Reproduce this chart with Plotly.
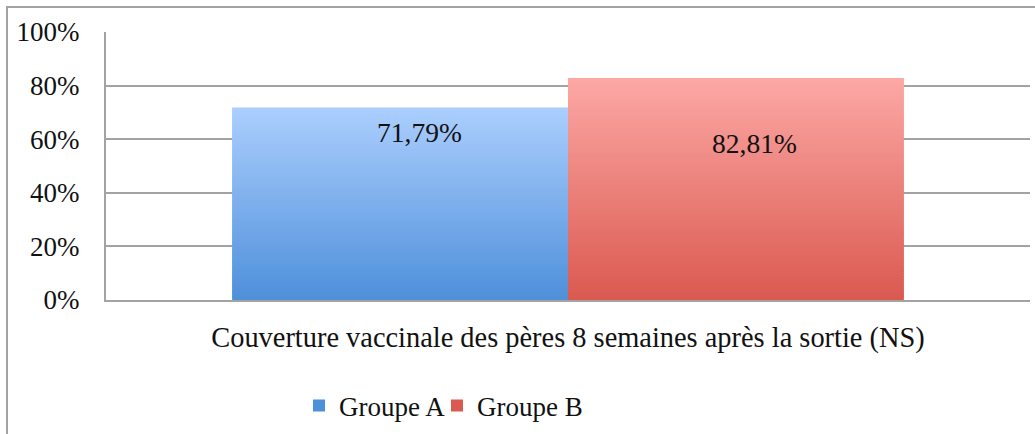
import plotly.graph_objects as go

# Data
category = "Couverture vaccinale des pères 8 semaines après la sortie (NS)"
groups = ["Groupe A", "Groupe B"]
coverage = [71.79, 82.81]          # % of fathers vaccinated
label_y = [62.5, 58.4]             # vertical position of value labels
y_ticks = [0, 20, 40, 60, 80, 100]

# Gradient ends (top colour, bottom colour) per group
grad_top = [(171, 206, 254), (252, 168, 165)]
grad_bottom = [(79, 144, 218), (218, 90, 80)]

W, H = 1035, 434
L, R, T, B = 106, 5, 32, 133
plot_w, plot_h = W - L - R, H - T - B
BARGAP = 0.273
FONT = "Liberation Serif"
GRID = "#A3A3A3"
N = 80  # slices used to render the vertical gradient
legend_left_px = [299, 437]  # left edge of each legend entry
legend_refs = ["legend", "legend2"]


def lerp(c0, c1, t):
    return "rgb({},{},{})".format(*[round(a + (b - a) * t) for a, b in zip(c0, c1)])


fig = go.Figure()
for g, v, top, bot, lg in zip(groups, coverage, grad_top, grad_bottom, legend_refs):
    step = v / N
    # each slice overlaps the next one slightly so no seams show
    heights = [step * 1.6] * (N - 1) + [step]
    fig.add_trace(go.Bar(
        name=g,
        x=[category] * N,
        y=heights,
        base=[i * step for i in range(N)],
        marker=dict(color=[lerp(bot, top, i / (N - 1)) for i in range(N)],
                    line=dict(width=0)),
        hoverinfo="skip",
        legend=lg,
    ))

# Value labels
half = (1 - BARGAP) / 2
for i, (v, yl) in enumerate(zip(coverage, label_y)):
    xc = (i - 0.5) * half
    fig.add_annotation(x=xc, y=yl, xref="x", yref="y",
                       text=f"{v:.2f}".replace(".", ",") + "%",
                       showarrow=False, xshift=19,
                       font=dict(family=FONT, size=27.5, color="#111111"))

# Outer chart frame (extends beyond the visible area on the right/bottom)
fig.add_shape(type="rect", xref="paper", yref="paper",
              x0=(7 - L) / plot_w, x1=(W + 20 - L) / plot_w,
              y0=(H - B - (H + 20)) / plot_h, y1=(H - B - 7) / plot_h,
              line=dict(color=GRID, width=2), fillcolor="rgba(0,0,0,0)",
              layer="below")


def legend_style(px):
    return dict(orientation="h", x=(px - L) / plot_w, xanchor="left",
                y=(H - B - 406) / plot_h, yanchor="middle",
                font=dict(family=FONT, size=27, color="#111111"),
                bgcolor="rgba(0,0,0,0)", itemwidth=30)


fig.update_layout(
    width=W, height=H,
    margin=dict(l=L, r=R, t=T, b=B, pad=0),
    paper_bgcolor="white", plot_bgcolor="white",
    barmode="group", bargap=BARGAP, bargroupgap=0,
    font=dict(family=FONT, size=27, color="#111111"),
    showlegend=True,
    legend=legend_style(legend_left_px[0]),
    legend2=legend_style(legend_left_px[1]),
    xaxis=dict(showgrid=False, showline=True, linecolor=GRID, linewidth=2,
               ticks="", ticklabelstandoff=11, fixedrange=True,
               tickfont=dict(family=FONT, size=28.4, color="#111111")),
    yaxis=dict(range=[0, 100], tickvals=y_ticks,
               ticktext=[f"{t}%" for t in y_ticks],
               showgrid=True, gridcolor=GRID, gridwidth=2,
               showline=True, linecolor=GRID, linewidth=2,
               zeroline=False, ticks="", ticklabelstandoff=19,
               fixedrange=True),
)

fig.write_html("out.html")
